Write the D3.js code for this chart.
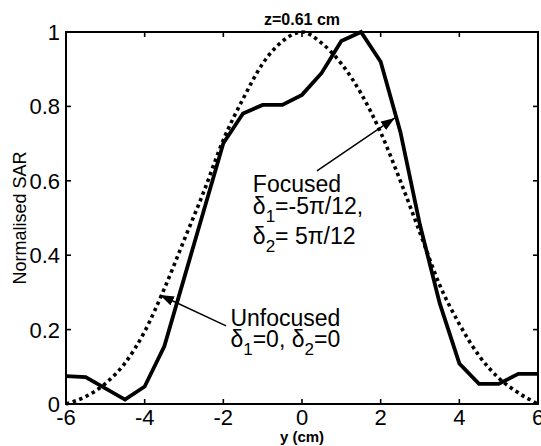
<!DOCTYPE html>
<html>
<head>
<meta charset="utf-8">
<script src="https://cdn.jsdelivr.net/npm/d3@7.9.0/dist/d3.min.js"></script>
<style>
  html, body { margin: 0; padding: 0; background: #fff; }
  svg { display: block; font-family: Arial, "Liberation Sans", Helvetica, sans-serif; }
</style>
</head>
<body>
<svg id="chart" width="541" height="446"></svg>
<script>
// position along y (cm)
const focusedY = [-6, -5.5, -4.5, -4, -3.5, -3, -2.5, -2, -1.5, -1, -0.5, 0, 0.5, 1, 1.5, 2, 2.5, 3, 3.5, 4, 4.5, 5, 5.5, 6];
const focusedSAR = [0.075, 0.072, 0.012, 0.047, 0.155, 0.337, 0.519, 0.701, 0.781, 0.804, 0.804, 0.831, 0.89, 0.976, 1.0, 0.92, 0.732, 0.481, 0.271, 0.109, 0.054, 0.054, 0.081, 0.081];

const unfocusedY = [-6, -5.5, -5, -4.5, -4, -3.5, -3, -2.5, -2, -1.5, -1, -0.5, 0, 0.5, 1, 1.5, 2, 2.5, 3, 3.5, 4, 4.5, 5, 5.5, 6];
const unfocusedSAR = [0.0, 0.02, 0.055, 0.11, 0.195, 0.31, 0.44, 0.57, 0.71, 0.82, 0.915, 0.975, 1.0, 0.97, 0.915, 0.835, 0.73, 0.6, 0.46, 0.32, 0.215, 0.13, 0.07, 0.03, 0.0];

const xTicks = [-6, -4, -2, 0, 2, 4, 6];
const yTicks = [0, 0.2, 0.4, 0.6, 0.8, 1];

const titleText = "z=0.61 cm";
const xLabel = "y (cm)";
const yLabel = "Normalised SAR";

const svg = d3.select("#chart");
const W = 541, H = 446;
const margin = { left: 66, right: 3, top: 32, bottom: 42 };

const x = d3.scaleLinear().domain([-6, 6]).range([margin.left, W - margin.right]);
const y = d3.scaleLinear().domain([0, 1]).range([H - margin.bottom, margin.top]);

svg.append("rect").attr("width", W).attr("height", H).attr("fill", "#fff");

// curves
const focused = focusedY.map((v, i) => [v, focusedSAR[i]]);
const unfocused = unfocusedY.map((v, i) => [v, unfocusedSAR[i]]);

svg.append("path")
  .datum(unfocused)
  .attr("fill", "none")
  .attr("stroke", "#000")
  .attr("stroke-width", 3.6)
  .attr("stroke-dasharray", "3.4,3.6")
  .attr("d", d3.line().x(d => x(d[0])).y(d => y(d[1])).curve(d3.curveMonotoneX));

svg.append("path")
  .datum(focused)
  .attr("fill", "none")
  .attr("stroke", "#000")
  .attr("stroke-width", 3.8)
  .attr("stroke-linejoin", "miter")
  .attr("d", d3.line().x(d => x(d[0])).y(d => y(d[1])));

// box + inward ticks
const x0 = x.range()[0], x1 = x.range()[1], y0 = y.range()[0], y1 = y.range()[1];
const tl = 5;
const ax = svg.append("g").attr("stroke", "#000").attr("stroke-width", 1.6);
xTicks.forEach(t => {
  ax.append("line").attr("x1", x(t)).attr("x2", x(t)).attr("y1", y0).attr("y2", y0 - tl);
  ax.append("line").attr("x1", x(t)).attr("x2", x(t)).attr("y1", y1).attr("y2", y1 + tl);
});
yTicks.forEach(t => {
  ax.append("line").attr("x1", x0).attr("x2", x0 + tl).attr("y1", y(t)).attr("y2", y(t));
  ax.append("line").attr("x1", x1).attr("x2", x1 - tl).attr("y1", y(t)).attr("y2", y(t));
});
svg.append("rect")
  .attr("x", x0).attr("y", y1)
  .attr("width", x1 - x0).attr("height", y0 - y1)
  .attr("fill", "none").attr("stroke", "#000").attr("stroke-width", 2);

// tick labels
svg.append("g").selectAll("text").data(xTicks).join("text")
  .attr("x", d => x(d)).attr("y", y0 + 21)
  .attr("text-anchor", "middle")
  .attr("font-size", 22)
  .text(d => d);

svg.append("g").selectAll("text").data(yTicks).join("text")
  .attr("x", x0 - 6).attr("y", d => y(d) + 8)
  .attr("text-anchor", "end")
  .attr("font-size", 22)
  .text(d => String(+d.toFixed(1)));

// title and axis labels
svg.append("text")
  .attr("x", (x0 + x1) / 2).attr("y", 25)
  .attr("text-anchor", "middle")
  .attr("font-size", 16).attr("font-weight", "bold")
  .text(titleText);

svg.append("text")
  .attr("x", (x0 + x1) / 2).attr("y", 442)
  .attr("text-anchor", "middle")
  .attr("font-size", 15).attr("font-weight", "bold")
  .text(xLabel);

svg.append("text")
  .attr("transform", `translate(26,${(y0 + y1) / 2}) rotate(-90)`)
  .attr("text-anchor", "middle")
  .attr("font-size", 18)
  .text(yLabel);

// annotations (arrows)
const defs = svg.append("defs");
defs.append("marker")
  .attr("id", "head")
  .attr("markerUnits", "userSpaceOnUse")
  .attr("viewBox", "0 0 14 10")
  .attr("refX", 14).attr("refY", 5)
  .attr("markerWidth", 14).attr("markerHeight", 10)
  .attr("orient", "auto")
  .append("path").attr("d", "M0,0 L14,5 L0,10 Z").attr("fill", "#000");

const arrows = [
  { from: [0.38, 0.627], to: [2.36, 0.769] },
  { from: [-1.93, 0.21], to: [-3.61, 0.293] }
];
svg.append("g").selectAll("line").data(arrows).join("line")
  .attr("x1", d => x(d.from[0])).attr("y1", d => y(d.from[1]))
  .attr("x2", d => x(d.to[0])).attr("y2", d => y(d.to[1]))
  .attr("stroke", "#000").attr("stroke-width", 1.5)
  .attr("marker-end", "url(#head)");

// annotation text, subscripts as tspans (shift down, then back up on the next piece)
function addLine(px, py, parts) {
  const t = svg.append("text").attr("x", px).attr("y", py).attr("font-size", 23);
  let back = 0;
  parts.forEach(p => {
    if (typeof p === "object") {
      t.append("tspan").attr("font-size", 17).attr("dy", 8).text(p.s);
      back = -8;
    } else {
      t.append("tspan").attr("dy", back).text(p);
      back = 0;
    }
  });
}

addLine(x(-1.25), y(0.57), ["Focused"]);
addLine(x(-1.25), y(0.511), ["δ", { s: "1" }, "=-5π/12,"]);
addLine(x(-1.25), y(0.43), ["δ", { s: "2" }, "= 5π/12"]);
addLine(x(-1.82), y(0.211), ["Unfocused"]);
addLine(x(-1.82), y(0.153), ["δ", { s: "1" }, "=0, δ", { s: "2" }, "=0"]);
</script>
</body>
</html>
